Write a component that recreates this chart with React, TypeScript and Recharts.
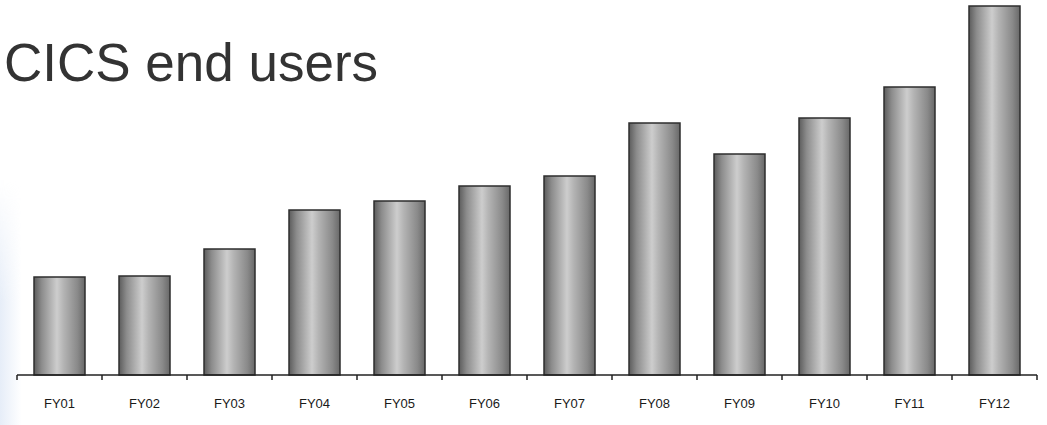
import { BarChart, Bar, XAxis, YAxis } from "recharts";

const categories = ["FY01", "FY02", "FY03", "FY04", "FY05", "FY06", "FY07", "FY08", "FY09", "FY10", "FY11", "FY12"];
// no value axis in the source; values read as relative bar heights
const users = [98, 99, 126, 165, 174, 189, 199, 252, 221, 257, 288, 369];

const data = categories.map((name, i) => ({ name, users: users[i], pos: i + 0.5 }));
const edgeTicks = categories.map((_, i) => i).concat(categories.length);

export default function App() {
  return (
    <div
      style={{
        position: "absolute",
        left: 0,
        top: 0,
        width: 1047,
        height: 425,
        background: "#fff",
        overflow: "hidden",
      }}
    >
      <div
        style={{
          position: "absolute",
          left: 0,
          top: 180,
          width: 22,
          height: 245,
          background: "linear-gradient(to right, rgba(214,226,244,0.6), rgba(255,255,255,0))",
          WebkitMaskImage: "linear-gradient(to bottom, transparent, black 50%)",
          maskImage: "linear-gradient(to bottom, transparent, black 50%)",
        }}
      />
      <div
        style={{
          position: "absolute",
          left: 4,
          top: 37,
          fontFamily: "'Liberation Sans', Arial, sans-serif",
          fontSize: 53,
          lineHeight: "52px",
          color: "#333",
          whiteSpace: "nowrap",
        }}
      >
        CICS end users
      </div>
      <div style={{ position: "absolute", left: 0, top: 0 }}>
        <BarChart
          width={1047}
          height={425}
          data={data}
          margin={{ top: 6, right: 10, left: 17, bottom: 19 }}
          barCategoryGap="20%"
        >
          <defs>
            <linearGradient id="cyl" x1="0" y1="0" x2="1" y2="0">
              <stop offset="0%" stopColor="#5c5c5c" />
              <stop offset="15%" stopColor="#8c8c8c" />
              <stop offset="45%" stopColor="#cdcdcd" />
              <stop offset="58%" stopColor="#b4b4b4" />
              <stop offset="85%" stopColor="#8a8a8a" />
              <stop offset="100%" stopColor="#686868" />
            </linearGradient>
          </defs>
          <XAxis
            type="number"
            dataKey="pos"
            domain={[0, categories.length]}
            ticks={edgeTicks}
            allowDataOverflow
            height={1}
            tick={() => <g />}
            tickSize={5}
            axisLine={{ stroke: "#222", strokeWidth: 1.5 }}
            tickLine={{ stroke: "#222", strokeWidth: 1.5 }}
          />
          <XAxis
            xAxisId="cat"
            dataKey="name"
            height={30}
            axisLine={false}
            tickLine={false}
            tickMargin={17}
            interval={0}
            tick={{ fill: "#1a1a1a", fontSize: 13, fontFamily: "'Liberation Sans', Arial, sans-serif" }}
          />
          <YAxis hide domain={[0, 369]} />
          <Bar
            xAxisId="cat"
            dataKey="users"
            fill="url(#cyl)"
            stroke="#2e2e2e"
            strokeWidth={1.5}
            isAnimationActive={false}
          />
        </BarChart>
      </div>
    </div>
  );
}
